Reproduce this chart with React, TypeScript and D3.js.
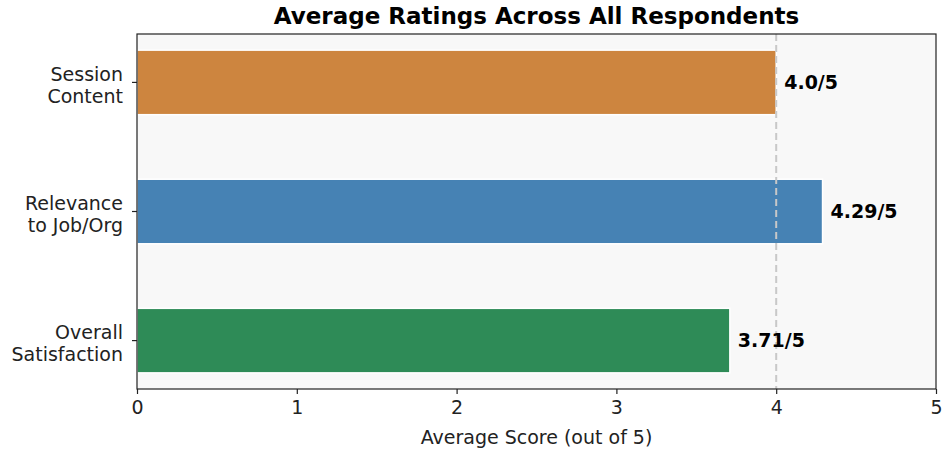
import { useEffect, useRef } from "react";
import * as d3 from "d3";

const categories = ["Session\nContent", "Relevance\nto Job/Org", "Overall\nSatisfaction"];
const scores = [4.0, 4.29, 3.71];
const scoreLabels = ["4.0/5", "4.29/5", "3.71/5"];
const barColors = ["#CD853F", "#4682B4", "#2E8B57"];
const xTicks = [0, 1, 2, 3, 4, 5];

const W = 945;
const H = 452;
const FONT = "'DejaVu Sans', sans-serif";

export default function App() {
    const ref = useRef<SVGSVGElement>(null);

    useEffect(() => {
        const svg = d3.select(ref.current);
        svg.selectAll("*").remove();

        const left = 137, right = 936, top = 34, bottom = 389;

        const x = d3.scaleLinear().domain([0, 5]).range([left, right]);
        // first category at top
        const y = d3.scaleLinear().domain([-0.375, 2.375]).range([top, bottom]);
        const barH = 0.5;

        svg.append("rect")
            .attr("x", left).attr("y", top)
            .attr("width", right - left).attr("height", bottom - top)
            .attr("fill", "#f8f8f8");

        // bars
        svg.append("g").selectAll("rect")
            .data(scores)
            .join("rect")
            .attr("x", x(0))
            .attr("y", (_, i) => y(i - barH / 2))
            .attr("width", d => x(d) - x(0))
            .attr("height", y(barH) - y(0))
            .attr("fill", (_, i) => barColors[i])
            .attr("stroke", "white")
            .attr("stroke-width", 1.5);

        // reference line at 4
        svg.append("line")
            .attr("x1", x(4)).attr("x2", x(4))
            .attr("y1", top).attr("y2", bottom)
            .attr("stroke", "#c8c8c8")
            .attr("stroke-width", 2)
            .attr("stroke-dasharray", "7,4");

        // value labels
        svg.append("g").selectAll("text")
            .data(scores)
            .join("text")
            .attr("x", d => x(d + 0.05))
            .attr("y", (_, i) => y(i))
            .attr("dy", "0.35em")
            .attr("font-family", FONT)
            .attr("font-size", 19)
            .attr("font-weight", "bold")
            .text((_, i) => scoreLabels[i]);

        // frame
        svg.append("rect")
            .attr("x", left).attr("y", top)
            .attr("width", right - left).attr("height", bottom - top)
            .attr("fill", "none")
            .attr("stroke", "#222")
            .attr("stroke-width", 1.2);

        // x axis
        const xAxis = svg.append("g")
            .attr("transform", `translate(0,${bottom})`)
            .call(d3.axisBottom(x).tickValues(xTicks).tickFormat(d3.format("d")).tickSize(5).tickPadding(7));
        xAxis.select(".domain").remove();
        xAxis.selectAll("text").attr("font-family", FONT).attr("font-size", 19).attr("fill", "#222");
        xAxis.selectAll("line").attr("stroke", "#222").attr("stroke-width", 1.2);

        // y axis ticks + multi-line labels
        const yg = svg.append("g");
        categories.forEach((c, i) => {
            const cy = y(i);
            yg.append("line")
                .attr("x1", left - 5).attr("x2", left)
                .attr("y1", cy).attr("y2", cy)
                .attr("stroke", "#222").attr("stroke-width", 1.2);
            const lines = c.split("\n");
            const t = yg.append("text")
                .attr("text-anchor", "end")
                .attr("font-family", FONT)
                .attr("font-size", 19)
                .attr("fill", "#222");
            lines.forEach((ln, k) => {
                t.append("tspan")
                    .attr("x", left - 14)
                    .attr("y", cy + 3 + (k - (lines.length - 1) / 2) * 22.5)
                    .attr("dy", "0.35em")
                    .text(ln);
            });
        });

        // axis title
        svg.append("text")
            .attr("x", (left + right) / 2)
            .attr("y", 444)
            .attr("text-anchor", "middle")
            .attr("font-family", FONT)
            .attr("font-size", 19)
            .attr("fill", "#222")
            .text("Average Score (out of 5)");

        // chart title
        svg.append("text")
            .attr("x", (left + right) / 2)
            .attr("y", 24)
            .attr("text-anchor", "middle")
            .attr("font-family", FONT)
            .attr("font-size", 23)
            .attr("font-weight", "bold")
            .text("Average Ratings Across All Respondents");
    }, []);

    return (
        <svg ref={ref} width={W} height={H}
            style={{ position: "absolute", left: 0, top: 0, background: "white" }} />
    );
}
